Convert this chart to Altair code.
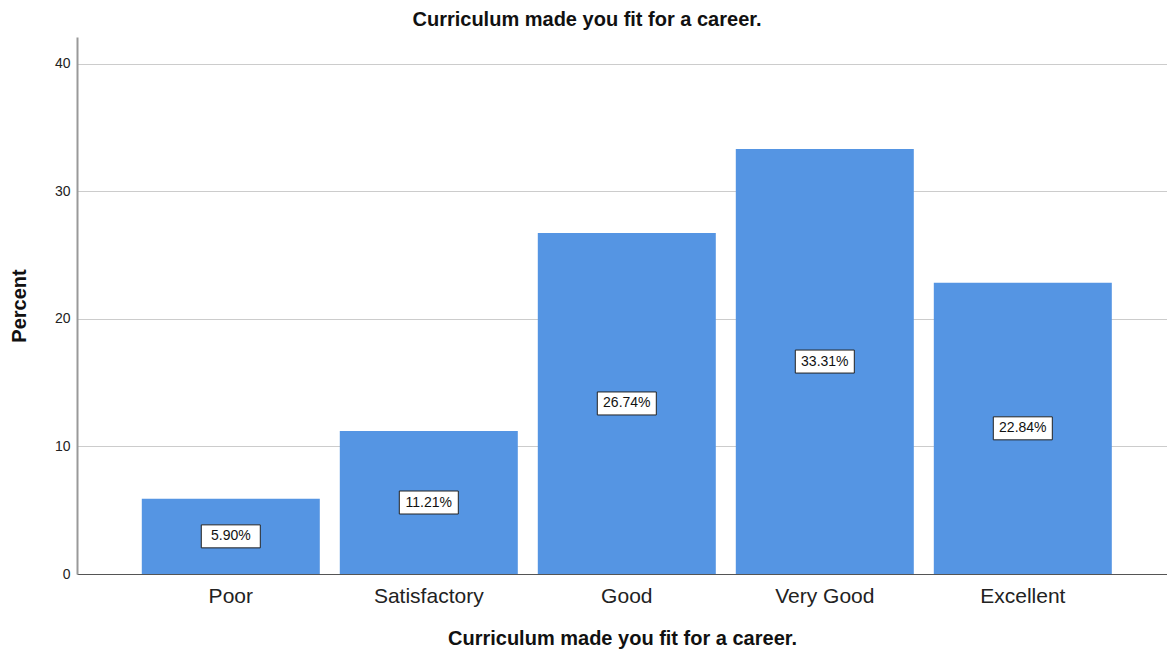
import altair as alt
import pandas as pd

categories = ["Poor", "Satisfactory", "Good", "Very Good", "Excellent"]
percents = [5.90, 11.21, 26.74, 33.31, 22.84]
y_ticks = [0, 10, 20, 30, 40]

df = pd.DataFrame({"Category": categories, "Percent": percents})
df["Label"] = [f"{v:.2f}%" for v in percents]

W, H = 1090, 537
FONT = "Liberation Sans"

x = alt.X("Category:N", sort=categories,
          scale=alt.Scale(paddingInner=0.101, paddingOuter=0.303, align=0.54),
          axis=alt.Axis(title="Curriculum made you fit for a career.", labelAngle=0,
                        labelFontSize=21, labelColor="#222", labelFont=FONT,
                        labelPadding=11, ticks=False, domainColor="#555",
                        titleFont=FONT, titleFontSize=20, titleFontWeight="bold",
                        titleColor="#111", titlePadding=22, grid=False))

base = alt.Chart(df).encode(x=x)

bars = base.mark_bar(color="#5595E3").encode(
    y=alt.Y("Percent:Q", scale=alt.Scale(domain=[0, 42.1], nice=False, zero=True),
            axis=alt.Axis(values=y_ticks, title="Percent", ticks=False,
                          labelFontSize=14, labelColor="#222", labelFont=FONT,
                          labelPadding=7, domainColor="#999", domainWidth=2,
                          gridColor="#cccccc", gridWidth=1,
                          titleFont=FONT, titleFontSize=20, titleFontWeight="bold",
                          titleColor="#111", titlePadding=25))
)

boxes = base.transform_calculate(mid="datum.Percent / 2").mark_rect(
    width=59, height=23, fill="white", stroke="#222", strokeWidth=1
).encode(y=alt.Y("mid:Q"))

labels = base.transform_calculate(mid="datum.Percent / 2").mark_text(
    font=FONT, fontSize=14, color="#111", baseline="middle", align="center"
).encode(y=alt.Y("mid:Q"), text="Label:N")

chart = alt.layer(bars, boxes, labels).properties(
    width=W, height=H,
    autosize=alt.AutoSizeParams(type="none"),
    padding={"left": 69, "top": 29, "right": 0, "bottom": 80},
    title=alt.TitleParams("Curriculum made you fit for a career.", font=FONT,
                          fontSize=20, fontWeight="bold", color="#111",
                          anchor="middle", dx=-35, offset=7),
).configure_view(stroke=None).configure_axis(gridOpacity=1)

chart.save("out.html", embed_options={"renderer": "svg", "actions": False})
